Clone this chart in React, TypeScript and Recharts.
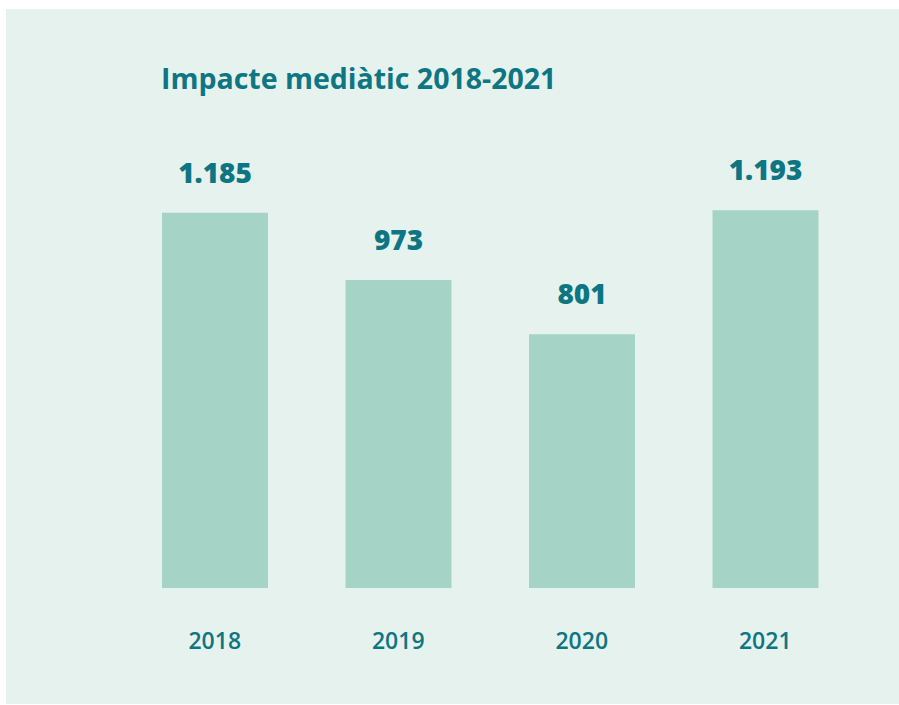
import { BarChart, Bar, XAxis, YAxis, LabelList } from "recharts"

const years = ["2018", "2019", "2020", "2021"]
const impacts = [1185, 973, 801, 1193]

const data = years.map((year, i) => ({ year, value: impacts[i] }))

const teal = "#0e7682"
const barColor = "#a5d4c6"
const panelBg = "#e6f2ee"
const font = "'Open Sans', sans-serif"

// catalan thousands separator
const formatValue = (v: number) => v.toString().replace(/\B(?=(\d{3})+(?!\d))/g, ".")

const YearTick = (props: any) => {
  const { x, y, payload } = props
  return (
    <text x={x} y={y} dy={53} textAnchor="middle" fill={teal} fontFamily={font} fontSize={23} fontWeight={600}>
      {payload.value}
    </text>
  )
}

export default function App() {
  return (
    <div style={{ position: "absolute", left: 0, top: 0, width: 899, height: 705, background: "#fff" }}>
      <div style={{ position: "absolute", left: 6, top: 9, width: 893, height: 695, background: panelBg }} />
      <div
        style={{
          position: "absolute",
          left: 161,
          top: 59,
          color: teal,
          fontFamily: font,
          fontSize: 28.5,
          fontWeight: 700,
          whiteSpace: "nowrap",
        }}
      >
        Impacte mediàtic 2018-2021
      </div>
      <div style={{ position: "absolute", left: 0, top: 0 }}>
        <BarChart width={899} height={705} data={data} margin={{ top: 208, right: 42, bottom: 57, left: 123 }} barSize={106}>
          <XAxis dataKey="year" axisLine={false} tickLine={false} height={60} tick={<YearTick />} interval={0} />
          <YAxis hide domain={[0, 1200]} />
          <Bar dataKey="value" fill={barColor} isAnimationActive={false}>
            <LabelList
              dataKey="value"
              position="top"
              offset={30}
              formatter={(v: any) => formatValue(Number(v))}
              fill={teal}
              fontFamily={font}
              fontSize={28}
              fontWeight={800}
            />
          </Bar>
        </BarChart>
      </div>
    </div>
  )
}
